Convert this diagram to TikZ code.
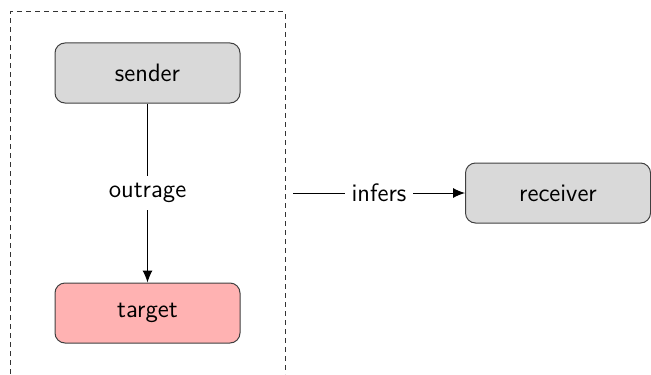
\documentclass[tikz,border=0pt]{standalone}
\usepackage{tikz}
\usetikzlibrary{arrows.meta}

\begin{document}
\begin{tikzpicture}[
    x=0.5pt, y=-0.5pt,
    font=\sffamily\fontsize{12.6}{15}\selectfont,
    agent/.style={draw=black!75, rounded corners=5pt, minimum width=92.5pt,
      minimum height=30pt, inner sep=0pt, line width=0.5pt},
    link/.style={line width=0.5pt, -{Latex[length=6pt,width=5pt]}},
    tag/.style={fill=white, inner sep=3.5pt}
    ]
    \useasboundingbox (0,0) rectangle (651,374);
    \draw[black!80, line width=0.5pt, dash pattern=on 2.5pt off 2pt] (10,374) -- (10,12) -- (285,12) -- (285,374);
    \node[agent, fill=black!15] (sender) at (147.5,73) {sender};
    \node[agent, fill=red!30] (target) at (147.5,313) {target};
    \node[agent, fill=black!15] (receiver) at (558,193) {receiver};
    \coordinate (boxedge) at (293,193);
    \draw[link] (sender) -- node[tag] {outrage} (target);
    \draw[link] (boxedge) -- node[tag] {infers} (receiver);
\end{tikzpicture}
\end{document}
